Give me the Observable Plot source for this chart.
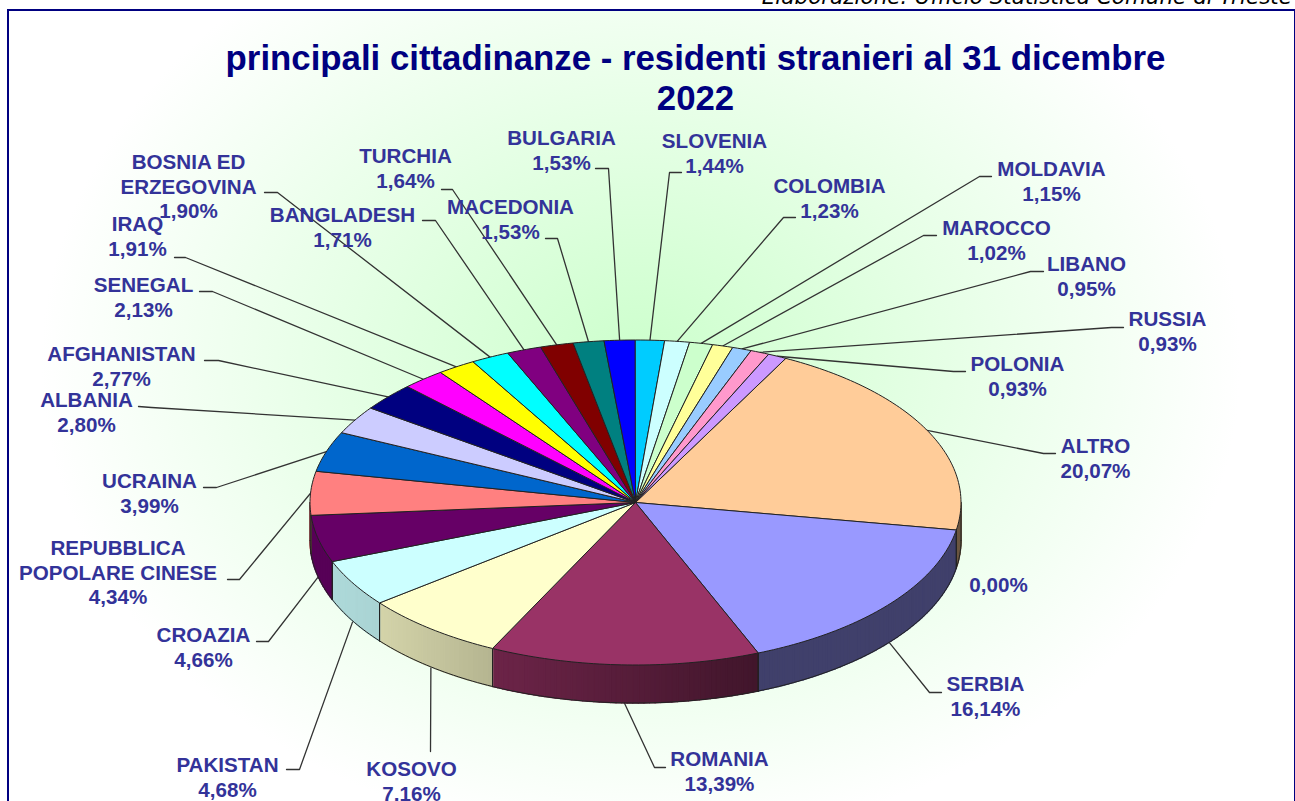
<!DOCTYPE html>
<html lang="it">
<head>
<meta charset="utf-8">
<title>principali cittadinanze</title>
<script src="https://cdn.jsdelivr.net/npm/d3@7"></script>
<script src="https://cdn.jsdelivr.net/npm/@observablehq/plot@0.6"></script>
<style>
  html, body { margin: 0; padding: 0; background: #fff; width: 1295px; height: 801px; overflow: hidden; }
  #caption { position: absolute; right: 3px; top: -16px; font: italic 21.5px "DejaVu Sans", sans-serif; color: #000; white-space: nowrap; }
  #frame { position: absolute; left: 7px; top: 9px; width: 1285px; height: 900px; border: 2px solid #000080;
           background: radial-gradient(ellipse 600px 480px at 632px 352px, #ccffcc 0%, #ffffff 100%); }
  #title { position: absolute; left: 0; top: 38px; width: 1295px; z-index: 2; text-align: center; transform: translateX(48px);
           font: bold 34.8px/40px "Liberation Sans", Arial, sans-serif; color: #000080; margin: 0; }
  #chart { position: absolute; left: 0; top: 0; z-index: 1; }
  #chart svg { background: transparent; display: block; }
</style>
</head>
<body>
<div id="caption">Elaborazione: Ufficio Statistica Comune di Trieste</div>
<div id="frame"></div>
<h1 id="title">principali cittadinanze - residenti stranieri al 31 dicembre<br>2022</h1>
<div id="chart"></div>
<script>
// ---- data, clockwise from the start of ALTRO ----
const names = ["ALTRO", "", "SERBIA", "ROMANIA", "KOSOVO", "PAKISTAN", "CROAZIA",
  "REPUBBLICA\nPOPOLARE CINESE", "UCRAINA", "ALBANIA", "AFGHANISTAN", "SENEGAL", "IRAQ",
  "BOSNIA ED\nERZEGOVINA", "BANGLADESH", "TURCHIA", "MACEDONIA", "BULGARIA", "SLOVENIA",
  "COLOMBIA", "MOLDAVIA", "MAROCCO", "LIBANO", "RUSSIA", "POLONIA"];
const shares = [20.07, 0, 16.14, 13.39, 7.16, 4.68, 4.66, 4.34, 3.99, 2.80, 2.77, 2.13, 1.91,
  1.90, 1.71, 1.64, 1.53, 1.53, 1.44, 1.23, 1.15, 1.02, 0.95, 0.93, 0.93];
const palette = ["#FFCC99", "#FFFFFF", "#9999FF", "#993366", "#FFFFCC", "#CCFFFF", "#660066",
  "#FF8080", "#0066CC", "#CCCCFF", "#000080", "#FF00FF", "#FFFF00", "#00FFFF", "#800080",
  "#800000", "#008080", "#0000FF", "#00CCFF", "#CCFFFF", "#CCFFCC", "#FFFF99", "#99CCFF",
  "#FF99CC", "#CC99FF"];

// ---- layout of the labels: centre x of the line(s), y of the first line ----
const labelX = [1095, 998, 985, 719, 411, 227, 203, 117.5, 149, 86, 121, 143, 137,
  188, 342, 405, 510, 561, 714, 829, 1051, 996, 1086, 1167, 1017];
const labelY = [446, 585, 684, 759, 769, 765, 635, 548, 481, 400, 354, 285, 224,
  162, 215, 156, 207, 138, 141, 186, 169, 228, 264, 319, 364];
// leader: elbow then end next to the label
const leaderPath = [
  [[1043, 453], [1055, 453]], null, [[929, 692], [941, 692]], [[654, 767], [665, 767]],
  [[430, 751]], [[299, 769], [286, 769]], [[268, 641], [256, 641]], [[239, 579], [227, 579]],
  [[216, 487], [203, 487]], [[151, 407], [138, 406]], [[218, 360], [204, 360]],
  [[212, 291], [199, 291]], [[185, 257], [174, 257]], [[277, 192], [264, 192]],
  [[435, 220], [422, 220]], [[452, 189], [441, 189]], [[557, 238], [545, 238]],
  [[608, 168], [595, 168]], [[669, 172], [681, 172]], [[783, 217], [795, 217]],
  [[979, 176], [991, 176]], [[923, 235], [936, 235]], [[1030, 271], [1043, 271]],
  [[1111, 327], [1123, 327]], [[953, 371], [965, 371]]
];

// ---- pie geometry ----
const W = 1295, H = 801;
const cx = 635, cy = 502, rx = 325.5, ry = 162.5, depth = 38, startDeg = 27.5;
const rad = d => d * Math.PI / 180;
const px = a => cx + rx * Math.sin(rad(a));
const py = a => cy - ry * Math.cos(rad(a));
const total = d3.sum(shares);
let acc = startDeg;
const slices = shares.map((s, i) => {
  const a0 = acc; acc += s / total * 360;
  return {i, name: names[i], share: s, color: palette[i], a0, a1: acc, mid: (a0 + acc) / 2};
});
const arcAngles = (a0, a1) => {
  const n = Math.max(1, Math.ceil(a1 - a0));
  return d3.range(n + 1).map(k => a0 + (a1 - a0) * k / n);
};
// darker towards the right of the wall, as the drum is lit from the left
const shade = d3.scaleLinear().domain([310, 380, 490, 760, 965]).range([0.86, 0.83, 0.71, 0.42, 0.42]);
const dark = (c, k) => { const r = d3.rgb(c); return d3.rgb(r.r * k, r.g * k, r.b * k).formatHex(); };

const faces = [], wallCells = [], wallEdges = [];
for (const s of slices) {
  if (s.share === 0) continue;
  faces.push({x: cx, y: cy, id: s.i, c: s.color});
  for (const a of arcAngles(s.a0, s.a1)) faces.push({x: px(a), y: py(a), id: s.i, c: s.color});
  faces.push({x: cx, y: cy, id: s.i, c: s.color});
  const w0 = Math.max(s.a0, 90), w1 = Math.min(s.a1, 270);
  if (w1 > w0) {
    const as = arcAngles(w0, w1);
    as.slice(1).forEach((a, k) => {
      const b = as[k], id = `${s.i}-${k}`, c = dark(s.color, shade((px(a) + px(b)) / 2));
      for (const [X, Y] of [[px(b), py(b)], [px(a), py(a)], [px(a), py(a) + depth], [px(b), py(b) + depth], [px(b), py(b)]])
        wallCells.push({x: X, y: Y, id, c});
    });
    for (const a of as) wallEdges.push({x: px(a), y: py(a) + depth, id: "rim" + s.i});
    for (const a of [w0, w1]) {
      wallEdges.push({x: px(a), y: py(a), id: `seam${s.i}-${a}`});
      wallEdges.push({x: px(a), y: py(a) + depth, id: `seam${s.i}-${a}`});
    }
  }
}
const leaderRows = [];
slices.forEach((s, i) => {
  if (!leaderPath[i]) return;
  const front = s.mid > 90 && s.mid < 270;
  leaderRows.push({x: px(s.mid), y: py(s.mid) + (front ? depth : 0), id: i});
  for (const [X, Y] of leaderPath[i]) leaderRows.push({x: X, y: Y, id: i});
});
const pct = v => v.toFixed(2).replace(".", ",") + "%";
const labelRows = [];
slices.forEach((s, i) => {
  const lines = (s.name ? s.name.split("\n") : []).concat(pct(s.share));
  lines.forEach((t, k) => labelRows.push({text: t, x: labelX[i], y: labelY[i] + k * 24.6}));
});

const chart = Plot.plot({
  width: W, height: H,
  marginTop: 0, marginRight: 0, marginBottom: 0, marginLeft: 0,
  x: {domain: [0, W], range: [0, W], axis: null},
  y: {domain: [0, H], range: [0, H], axis: null},
  color: {type: "identity"},
  marks: [
    Plot.line(leaderRows, {x: "x", y: "y", z: "id", stroke: "#333", strokeWidth: 1.3}),
    Plot.line(wallCells, {x: "x", y: "y", z: "id", fill: "c", stroke: "c", strokeWidth: 1.4}),
    Plot.line(wallEdges, {x: "x", y: "y", z: "id", stroke: "#222", strokeWidth: 1}),
    Plot.line(faces, {x: "x", y: "y", z: "id", fill: "c", stroke: "#222", strokeWidth: 1}),
    Plot.text(labelRows, {x: "x", y: "y", text: "text", fill: "#333399", fontSize: 20.6,
      fontWeight: "bold", fontFamily: "Liberation Sans, Arial, sans-serif",
      textAnchor: "middle", lineAnchor: "middle"})
  ]
});
document.getElementById("chart").appendChild(chart);
</script>
</body>
</html>
